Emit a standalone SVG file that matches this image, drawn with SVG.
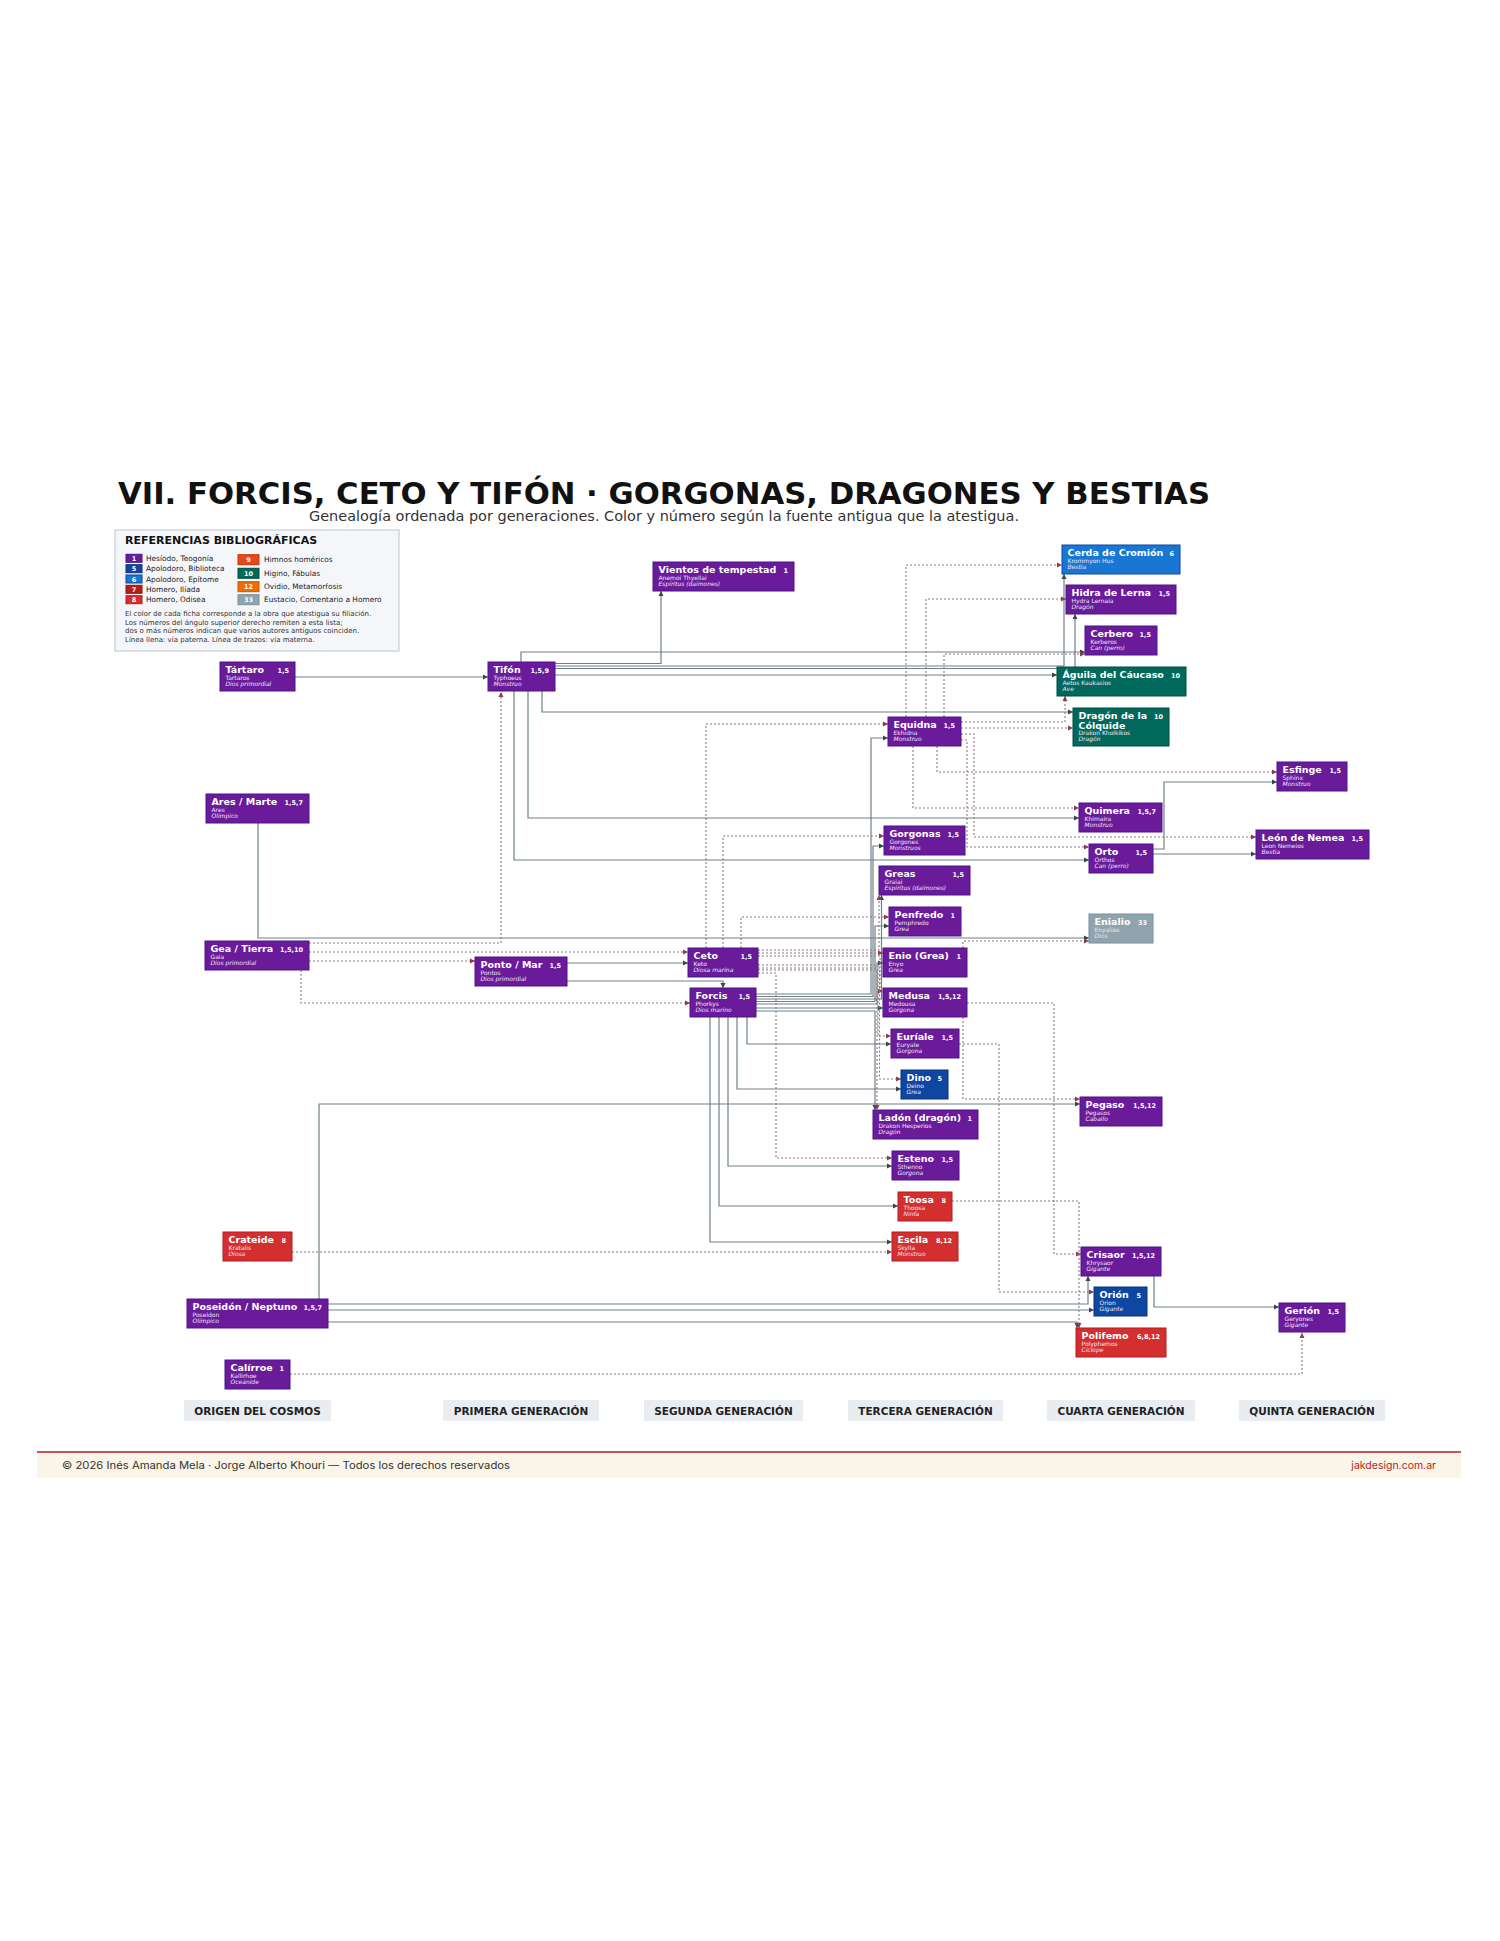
<svg xmlns="http://www.w3.org/2000/svg" width="1500" height="1941" viewBox="0 0 1500 1941">
<defs>
<marker id="ap" markerWidth="6" markerHeight="6" refX="5" refY="3" orient="auto" markerUnits="userSpaceOnUse"><path d="M0,0.5 L5,3 L0,5.5 z" fill="#37474f"/></marker>
<marker id="am" markerWidth="6" markerHeight="6" refX="5" refY="3" orient="auto" markerUnits="userSpaceOnUse"><path d="M0,0.5 L5,3 L0,5.5 z" fill="#8e3b52"/></marker>
<style>
.pu{fill:#6a1b9a;stroke:#4a148c;stroke-width:1}
.b6{fill:#1976d2;stroke:#0d47a1;stroke-width:1}
.b5{fill:#0d47a1;stroke:#0a3278;stroke-width:1}
.r8{fill:#d32f2f;stroke:#b71c1c;stroke-width:1}
.g10{fill:#00695c;stroke:#004d40;stroke-width:1}
.gy{fill:#90a4ae;stroke:#78909c;stroke-width:1}
.t{font-family:"DejaVu Sans",sans-serif;font-weight:bold;font-size:9.5px;fill:#fff}
.k{font-family:"DejaVu Sans",sans-serif;font-weight:bold;font-size:6.5px;fill:#fff;text-anchor:end}
.s{font-family:"DejaVu Sans",sans-serif;font-size:6px;fill:#efe6f5}
.i{font-family:"DejaVu Sans",sans-serif;font-style:italic;font-size:6px;fill:#efe6f5}
.p{fill:none;stroke:#6f8088;stroke-width:1.2;marker-end:url(#ap)}
.m{fill:none;stroke:#8c7880;stroke-width:1.1;stroke-dasharray:2 2;marker-end:url(#am)}
.lt{font-family:"DejaVu Sans",sans-serif;font-size:7.4px;fill:#222}
.ln{font-family:"DejaVu Sans",sans-serif;font-weight:bold;font-size:6.5px;fill:#fff;text-anchor:middle}
.lp{font-family:"DejaVu Sans",sans-serif;font-size:7px;fill:#333}
.gl rect{fill:#e9edf1}
.gl text{font-family:"DejaVu Sans",sans-serif;font-weight:bold;font-size:10.5px;fill:#222;text-anchor:middle}
</style>
</defs>
<rect x="0" y="0" width="1500" height="1941" fill="#fff"/>

<text x="118" y="504" font-family="DejaVu Sans, sans-serif" font-weight="bold" font-size="30" fill="#111" textLength="1092" lengthAdjust="spacingAndGlyphs">VII. FORCIS, CETO Y TIFÓN · GORGONAS, DRAGONES Y BESTIAS</text>
<text x="664" y="521" font-family="DejaVu Sans, sans-serif" font-size="13.5" fill="#333" text-anchor="middle" textLength="710" lengthAdjust="spacingAndGlyphs">Genealogía ordenada por generaciones. Color y número según la fuente antigua que la atestigua.</text>

<g id="legend">
<rect x="115" y="530" width="284" height="121" fill="#f4f6f9" stroke="#c8cdd3" stroke-width="1.2"/>
<text x="125" y="544" font-family="DejaVu Sans, sans-serif" font-weight="bold" font-size="11" fill="#111">REFERENCIAS BIBLIOGRÁFICAS</text>
<rect x="126" y="554.3" width="16" height="8" class="pu"/><text class="ln" x="134" y="560.8">1</text><text class="lt" x="146" y="561">Hesíodo, Teogonía</text>
<rect x="126" y="564.7" width="16" height="8" class="b5"/><text class="ln" x="134" y="571.2">5</text><text class="lt" x="146" y="571.4">Apolodoro, Biblioteca</text>
<rect x="126" y="575" width="16" height="8" class="b6"/><text class="ln" x="134" y="581.5">6</text><text class="lt" x="146" y="581.7">Apolodoro, Epítome</text>
<rect x="126" y="585.3" width="16" height="8" fill="#b71c1c" stroke="#8e1414"/><text class="ln" x="134" y="591.8">7</text><text class="lt" x="146" y="592">Homero, Ilíada</text>
<rect x="126" y="595.7" width="16" height="8" class="r8"/><text class="ln" x="134" y="602.2">8</text><text class="lt" x="146" y="602.4">Homero, Odisea</text>
<rect x="238" y="554.7" width="21" height="10" fill="#e64a19" stroke="#bf360c"/><text class="ln" x="248.5" y="562">9</text><text class="lt" x="264" y="562.3">Himnos homéricos</text>
<rect x="238" y="568.3" width="21" height="10" class="g10"/><text class="ln" x="248.5" y="575.6">10</text><text class="lt" x="264" y="575.9">Higino, Fábulas</text>
<rect x="238" y="581.7" width="21" height="10" fill="#ef6c00" stroke="#c75a00"/><text class="ln" x="248.5" y="589">12</text><text class="lt" x="264" y="589.3">Ovidio, Metamorfosis</text>
<rect x="238" y="594.7" width="21" height="10" class="gy"/><text class="ln" x="248.5" y="602">33</text><text class="lt" x="264" y="602.3">Eustacio, Comentario a Homero</text>
<text class="lp" x="125" y="616">El color de cada ficha corresponde a la obra que atestigua su filiación.</text>
<text class="lp" x="125" y="624.7">Los números del ángulo superior derecho remiten a esta lista;</text>
<text class="lp" x="125" y="633.3">dos o más números indican que varios autores antiguos coinciden.</text>
<text class="lp" x="125" y="642">Línea llena: vía paterna. Línea de trazos: vía materna.</text>
</g>

<g id="connectors">
<path class="p" d="M295,677 H488"/>
<path class="p" d="M521,662 V652 H1085"/>
<path class="p" d="M555,663.5 H661 V591"/>
<path class="p" d="M555,666 H1064 V574"/>
<path class="p" d="M555,668.5 H1075 V614"/>
<path class="p" d="M555,675 H1057"/>
<path class="p" d="M542,691 V712 H1073"/>
<path class="p" d="M528,691 V818 H1079"/>
<path class="p" d="M514,691 V860 H1089"/>
<path class="p" d="M258,823 V938 H1089"/>
<path class="p" d="M567,963 H688"/>
<path class="p" d="M567,981 H723 V988"/>
<path class="p" d="M756,994 H871 V738 H888"/>
<path class="p" d="M756,996.5 H873 V846 H884"/>
<path class="p" d="M756,999 H881.5 V895"/>
<path class="p" d="M756,1001.5 H875 V926 H889"/>
<path class="p" d="M756,1004 H877 V963 H883"/>
<path class="p" d="M756,1008 H883"/>
<path class="p" d="M756,1011 H875 V1110"/>
<path class="p" d="M747,1017 V1044 H891"/>
<path class="p" d="M737,1017 V1089 H901"/>
<path class="p" d="M728,1017 V1166 H892"/>
<path class="p" d="M719,1017 V1206 H898"/>
<path class="p" d="M710,1017 V1242 H892"/>
<path class="p" d="M319,1299 V1104 H1080"/>
<path class="p" d="M328,1304 H1088 V1276"/>
<path class="p" d="M328,1310 H1094"/>
<path class="p" d="M328,1322 H1077 V1328"/>
<path class="p" d="M1153,849 H1164 V782 H1277"/>
<path class="p" d="M1153,854 H1256"/>
<path class="p" d="M1154,1276 V1307 H1279"/>

<path class="m" d="M309,943 H501 V692"/>
<path class="m" d="M309,952 H688"/>
<path class="m" d="M309,961 H475"/>
<path class="m" d="M301,970 V1003 H690"/>
<path class="m" d="M706,948 V724 H888"/>
<path class="m" d="M723,948 V836 H884"/>
<path class="m" d="M741,948 V917 H889"/>
<path class="m" d="M758,950 H879 V895"/>
<path class="m" d="M758,953 H883"/>
<path class="m" d="M758,956 H880 V991 H883"/>
<path class="m" d="M758,965 H878 V1036 H891"/>
<path class="m" d="M758,968 H879.5 V1079 H901"/>
<path class="m" d="M758,970 H877 V1110"/>
<path class="m" d="M758,973 H776 V1158 H892"/>
<path class="m" d="M963,948 V941 H1089"/>
<path class="m" d="M967,1003 H1054 V1254 H1081"/>
<path class="m" d="M963,1017 V1099 H1080"/>
<path class="m" d="M959,1044 H999 V1292 H1094"/>
<path class="m" d="M952,1201 H1079 V1328"/>
<path class="m" d="M292,1252 H892"/>
<path class="m" d="M290,1374 H1302 V1333"/>
<path class="m" d="M906,717 V565 H1062"/>
<path class="m" d="M926,717 V599 H1066"/>
<path class="m" d="M944,717 V654 H1085"/>
<path class="m" d="M961,722 H1065 V696"/>
<path class="m" d="M961,728 H1073"/>
<path class="m" d="M961,734 H974 V837 H1256"/>
<path class="m" d="M961,740 H967 V847 H1089"/>
<path class="m" d="M937,746 V772 H1277"/>
<path class="m" d="M913,746 V808 H1079"/>
</g>

<g id="n-tartaro"><rect class="pu" x="220" y="662" width="75" height="29"/><text class="t" x="225.5" y="673">Tártaro</text><text class="k" x="289" y="673">1,5</text><text class="s" x="225.5" y="679.5">Tartaros</text><text class="i" x="225.5" y="685.5">Dios primordial</text></g>
<g id="n-tifon"><rect class="pu" x="488" y="662" width="67" height="29"/><text class="t" x="493.5" y="673">Tifón</text><text class="k" x="549" y="673">1,5,9</text><text class="s" x="493.5" y="679.5">Typhoeus</text><text class="i" x="493.5" y="685.5">Monstruo</text></g>
<g id="n-vientos"><rect class="pu" x="653" y="562" width="141" height="29"/><text class="t" x="658.5" y="573">Vientos de tempestad</text><text class="k" x="788" y="573">1</text><text class="s" x="658.5" y="579.5">Anemoi Thyellai</text><text class="i" x="658.5" y="585.5">Espíritus (daímones)</text></g>
<g id="n-cerda"><rect class="b6" x="1062" y="545" width="118" height="29"/><text class="t" x="1067.5" y="556">Cerda de Cromión</text><text class="k" x="1174" y="556">6</text><text class="s" x="1067.5" y="562.5">Krommyon Hus</text><text class="i" x="1067.5" y="568.5">Bestia</text></g>
<g id="n-hidra"><rect class="pu" x="1066" y="585" width="110" height="29"/><text class="t" x="1071.5" y="596">Hidra de Lerna</text><text class="k" x="1170" y="596">1,5</text><text class="s" x="1071.5" y="602.5">Hydra Lernaia</text><text class="i" x="1071.5" y="608.5">Dragón</text></g>
<g id="n-cerbero"><rect class="pu" x="1085" y="626" width="72" height="29"/><text class="t" x="1090.5" y="637">Cerbero</text><text class="k" x="1151" y="637">1,5</text><text class="s" x="1090.5" y="643.5">Kerberos</text><text class="i" x="1090.5" y="649.5">Can (perro)</text></g>
<g id="n-aguila"><rect class="g10" x="1057" y="667" width="129" height="29"/><text class="t" x="1062.5" y="678">Águila del Cáucaso</text><text class="k" x="1180" y="678">10</text><text class="s" x="1062.5" y="684.5">Aetos Kaukasios</text><text class="i" x="1062.5" y="690.5">Ave</text></g>
<g id="n-dragon"><rect class="g10" x="1073" y="708" width="96" height="38"/><text class="t" x="1078.5" y="719">Dragón de la</text><text class="t" x="1078.5" y="728.5">Cólquide</text><text class="k" x="1163" y="719">10</text><text class="s" x="1078.5" y="735">Drakon Kholkikos</text><text class="i" x="1078.5" y="741">Dragón</text></g>
<g id="n-equidna"><rect class="pu" x="888" y="717" width="73" height="29"/><text class="t" x="893.5" y="728">Equidna</text><text class="k" x="955" y="728">1,5</text><text class="s" x="893.5" y="734.5">Ekhidna</text><text class="i" x="893.5" y="740.5">Monstruo</text></g>
<g id="n-esfinge"><rect class="pu" x="1277" y="762" width="70" height="29"/><text class="t" x="1282.5" y="773">Esfinge</text><text class="k" x="1341" y="773">1,5</text><text class="s" x="1282.5" y="779.5">Sphinx</text><text class="i" x="1282.5" y="785.5">Monstruo</text></g>
<g id="n-quimera"><rect class="pu" x="1079" y="803" width="83" height="29"/><text class="t" x="1084.5" y="814">Quimera</text><text class="k" x="1156" y="814">1,5,7</text><text class="s" x="1084.5" y="820.5">Khimaira</text><text class="i" x="1084.5" y="826.5">Monstruo</text></g>
<g id="n-leon"><rect class="pu" x="1256" y="830" width="113" height="29"/><text class="t" x="1261.5" y="841">León de Nemea</text><text class="k" x="1363" y="841">1,5</text><text class="s" x="1261.5" y="847.5">Leon Nemeios</text><text class="i" x="1261.5" y="853.5">Bestia</text></g>
<g id="n-orto"><rect class="pu" x="1089" y="844" width="64" height="29"/><text class="t" x="1094.5" y="855">Orto</text><text class="k" x="1147" y="855">1,5</text><text class="s" x="1094.5" y="861.5">Orthos</text><text class="i" x="1094.5" y="867.5">Can (perro)</text></g>
<g id="n-gorgonas"><rect class="pu" x="884" y="826" width="81" height="29"/><text class="t" x="889.5" y="837">Gorgonas</text><text class="k" x="959" y="837">1,5</text><text class="s" x="889.5" y="843.5">Gorgones</text><text class="i" x="889.5" y="849.5">Monstruos</text></g>
<g id="n-greas"><rect class="pu" x="879" y="866" width="91" height="29"/><text class="t" x="884.5" y="877">Greas</text><text class="k" x="964" y="877">1,5</text><text class="s" x="884.5" y="883.5">Graiai</text><text class="i" x="884.5" y="889.5">Espíritus (daímones)</text></g>
<g id="n-penfredo"><rect class="pu" x="889" y="907" width="72" height="29"/><text class="t" x="894.5" y="918">Penfredo</text><text class="k" x="955" y="918">1</text><text class="s" x="894.5" y="924.5">Pemphredo</text><text class="i" x="894.5" y="930.5">Grea</text></g>
<g id="n-enialio"><rect class="gy" x="1089" y="914" width="64" height="29"/><text class="t" x="1094.5" y="925">Enialio</text><text class="k" x="1147" y="925">33</text><text class="s" x="1094.5" y="931.5">Enyalios</text><text class="i" x="1094.5" y="937.5">Dios</text></g>
<g id="n-ares"><rect class="pu" x="206" y="794" width="103" height="29"/><text class="t" x="211.5" y="805">Ares / Marte</text><text class="k" x="303" y="805">1,5,7</text><text class="s" x="211.5" y="811.5">Ares</text><text class="i" x="211.5" y="817.5">Olímpico</text></g>
<g id="n-gea"><rect class="pu" x="205" y="941" width="104" height="29"/><text class="t" x="210.5" y="952">Gea / Tierra</text><text class="k" x="303" y="952">1,5,10</text><text class="s" x="210.5" y="958.5">Gaia</text><text class="i" x="210.5" y="964.5">Dios primordial</text></g>
<g id="n-ponto"><rect class="pu" x="475" y="957" width="92" height="29"/><text class="t" x="480.5" y="968">Ponto / Mar</text><text class="k" x="561" y="968">1,5</text><text class="s" x="480.5" y="974.5">Pontos</text><text class="i" x="480.5" y="980.5">Dios primordial</text></g>
<g id="n-ceto"><rect class="pu" x="688" y="948" width="70" height="29"/><text class="t" x="693.5" y="959">Ceto</text><text class="k" x="752" y="959">1,5</text><text class="s" x="693.5" y="965.5">Keto</text><text class="i" x="693.5" y="971.5">Diosa marina</text></g>
<g id="n-forcis"><rect class="pu" x="690" y="988" width="66" height="29"/><text class="t" x="695.5" y="999">Forcis</text><text class="k" x="750" y="999">1,5</text><text class="s" x="695.5" y="1005.5">Phorkys</text><text class="i" x="695.5" y="1011.5">Dios marino</text></g>
<g id="n-enio"><rect class="pu" x="883" y="948" width="84" height="29"/><text class="t" x="888.5" y="959">Enio (Grea)</text><text class="k" x="961" y="959">1</text><text class="s" x="888.5" y="965.5">Enyo</text><text class="i" x="888.5" y="971.5">Grea</text></g>
<g id="n-medusa"><rect class="pu" x="883" y="988" width="84" height="29"/><text class="t" x="888.5" y="999">Medusa</text><text class="k" x="961" y="999">1,5,12</text><text class="s" x="888.5" y="1005.5">Medousa</text><text class="i" x="888.5" y="1011.5">Gorgona</text></g>
<g id="n-euriale"><rect class="pu" x="891" y="1029" width="68" height="29"/><text class="t" x="896.5" y="1040">Euríale</text><text class="k" x="953" y="1040">1,5</text><text class="s" x="896.5" y="1046.5">Euryale</text><text class="i" x="896.5" y="1052.5">Gorgona</text></g>
<g id="n-dino"><rect class="b5" x="901" y="1070" width="47" height="29"/><text class="t" x="906.5" y="1081">Dino</text><text class="k" x="942" y="1081">5</text><text class="s" x="906.5" y="1087.5">Deino</text><text class="i" x="906.5" y="1093.5">Grea</text></g>
<g id="n-pegaso"><rect class="pu" x="1080" y="1097" width="82" height="29"/><text class="t" x="1085.5" y="1108">Pegaso</text><text class="k" x="1156" y="1108">1,5,12</text><text class="s" x="1085.5" y="1114.5">Pegasos</text><text class="i" x="1085.5" y="1120.5">Caballo</text></g>
<g id="n-ladon"><rect class="pu" x="873" y="1110" width="105" height="29"/><text class="t" x="878.5" y="1121">Ladón (dragón)</text><text class="k" x="972" y="1121">1</text><text class="s" x="878.5" y="1127.5">Drakon Hesperios</text><text class="i" x="878.5" y="1133.5">Dragón</text></g>
<g id="n-esteno"><rect class="pu" x="892" y="1151" width="67" height="29"/><text class="t" x="897.5" y="1162">Esteno</text><text class="k" x="953" y="1162">1,5</text><text class="s" x="897.5" y="1168.5">Sthenno</text><text class="i" x="897.5" y="1174.5">Gorgona</text></g>
<g id="n-toosa"><rect class="r8" x="898" y="1192" width="54" height="29"/><text class="t" x="903.5" y="1203">Toosa</text><text class="k" x="946" y="1203">8</text><text class="s" x="903.5" y="1209.5">Thoosa</text><text class="i" x="903.5" y="1215.5">Ninfa</text></g>
<g id="n-escila"><rect class="r8" x="892" y="1232" width="66" height="29"/><text class="t" x="897.5" y="1243">Escila</text><text class="k" x="952" y="1243">8,12</text><text class="s" x="897.5" y="1249.5">Skylla</text><text class="i" x="897.5" y="1255.5">Monstruo</text></g>
<g id="n-crateide"><rect class="r8" x="223" y="1232" width="69" height="29"/><text class="t" x="228.5" y="1243">Crateide</text><text class="k" x="286" y="1243">8</text><text class="s" x="228.5" y="1249.5">Krataiis</text><text class="i" x="228.5" y="1255.5">Diosa</text></g>
<g id="n-crisaor"><rect class="pu" x="1081" y="1247" width="80" height="29"/><text class="t" x="1086.5" y="1258">Crisaor</text><text class="k" x="1155" y="1258">1,5,12</text><text class="s" x="1086.5" y="1264.5">Khrysaor</text><text class="i" x="1086.5" y="1270.5">Gigante</text></g>
<g id="n-orion"><rect class="b5" x="1094" y="1287" width="53" height="29"/><text class="t" x="1099.5" y="1298">Orión</text><text class="k" x="1141" y="1298">5</text><text class="s" x="1099.5" y="1304.5">Orion</text><text class="i" x="1099.5" y="1310.5">Gigante</text></g>
<g id="n-polifemo"><rect class="r8" x="1076" y="1328" width="90" height="29"/><text class="t" x="1081.5" y="1339">Polifemo</text><text class="k" x="1160" y="1339">6,8,12</text><text class="s" x="1081.5" y="1345.5">Polyphemos</text><text class="i" x="1081.5" y="1351.5">Cíclope</text></g>
<g id="n-gerion"><rect class="pu" x="1279" y="1303" width="66" height="29"/><text class="t" x="1284.5" y="1314">Gerión</text><text class="k" x="1339" y="1314">1,5</text><text class="s" x="1284.5" y="1320.5">Geryones</text><text class="i" x="1284.5" y="1326.5">Gigante</text></g>
<g id="n-poseidon"><rect class="pu" x="187" y="1299" width="141" height="29"/><text class="t" x="192.5" y="1310">Poseidón / Neptuno</text><text class="k" x="322" y="1310">1,5,7</text><text class="s" x="192.5" y="1316.5">Poseidon</text><text class="i" x="192.5" y="1322.5">Olímpico</text></g>
<g id="n-calirroe"><rect class="pu" x="225" y="1360" width="65" height="29"/><text class="t" x="230.5" y="1371">Calírroe</text><text class="k" x="284" y="1371">1</text><text class="s" x="230.5" y="1377.5">Kallirhoe</text><text class="i" x="230.5" y="1383.5">Oceánide</text></g>

<g id="generations" class="gl">
<rect x="184" y="1400" width="147" height="21"/><text x="257.5" y="1414.5">ORIGEN DEL COSMOS</text>
<rect x="443" y="1400" width="156" height="21"/><text x="521" y="1414.5">PRIMERA GENERACIÓN</text>
<rect x="644" y="1400" width="159" height="21"/><text x="723.5" y="1414.5">SEGUNDA GENERACIÓN</text>
<rect x="848" y="1400" width="155" height="21"/><text x="925.5" y="1414.5">TERCERA GENERACIÓN</text>
<rect x="1047" y="1400" width="148" height="21"/><text x="1121" y="1414.5">CUARTA GENERACIÓN</text>
<rect x="1239" y="1400" width="146" height="21"/><text x="1312" y="1414.5">QUINTA GENERACIÓN</text>
</g>

<g id="footer">
<rect x="37" y="1453" width="1424" height="25" fill="#faf5e8"/>
<line x1="37" y1="1452" x2="1461" y2="1452" stroke="#b71c1c" stroke-width="1.6"/>
<text x="62" y="1469" font-family="Inter, 'Open Sans', sans-serif" font-size="10" fill="#333" textLength="448" lengthAdjust="spacingAndGlyphs">© 2026  Inés Amanda Mela  ·  Jorge Alberto Khouri  —  Todos los derechos reservados</text>
<text x="1436" y="1469" font-family="Inter, 'Open Sans', sans-serif" font-size="10.5" fill="#b71c1c" text-anchor="end">jakdesign.com.ar</text>
</g>
</svg>
